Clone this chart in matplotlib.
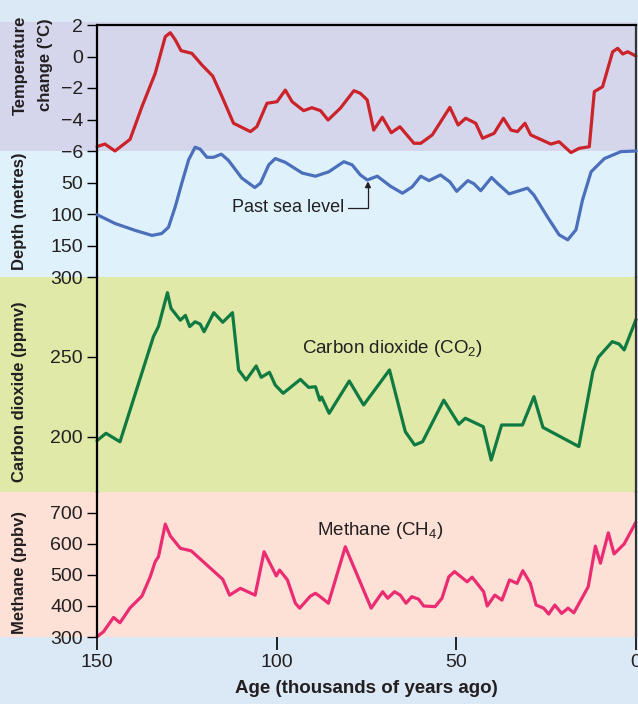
import matplotlib
matplotlib.use('Agg')
import matplotlib.pyplot as plt
from matplotlib.patches import Rectangle

plt.rcParams['font.family'] = ['Liberation Sans Narrow', 'Liberation Sans', 'DejaVu Sans']
plt.rcParams['mathtext.default'] = 'regular'

# temperature change (deg C) vs age (kyr ago)
temp_age = [150, 147.8, 145, 140.8, 137.5, 133.8, 131, 129.6, 128.2, 126.6, 123.6, 120.8, 117.8,
            115.2, 112, 107.3, 105.5, 102.7, 99.9, 97.6, 95.7, 92.5, 90.2, 87.8, 85.7, 82.3, 78.5,
            76.7, 74.8, 73, 70.6, 68.1, 65.7, 61.8, 59.9, 56.7, 51.8, 49.5, 47.4, 44.6, 42.7, 39.5,
            36.9, 34.8, 33, 30.9, 29.3, 23.7, 21.4, 18.1, 15.8, 13, 11.6, 9.3, 6.5, 5.1, 3.7, 2.3, 0]
temp_val = [-5.72, -5.56, -6.0, -5.26, -3.19, -1.07, 1.26, 1.51, 1.05, 0.37, 0.2, -0.54, -1.24,
            -2.55, -4.24, -4.77, -4.45, -2.97, -2.87, -2.13, -2.87, -3.44, -3.25, -3.44, -4.03, -3.29, -2.17,
            -2.34, -2.76, -4.67, -3.86, -4.84, -4.46, -5.51, -5.51, -4.98, -3.23, -4.35, -3.92, -4.24, -5.19, -4.88,
            -3.92, -4.67, -4.77, -4.24, -4.98, -5.56, -5.41, -6.1, -5.83, -5.73, -2.23, -1.92, 0.3, 0.52, 0.16, 0.3, 0.03]

# sea level depth (m)
sea_age = [150, 145, 139.4, 134.7, 132, 130.1, 128.2, 126.4, 124.5, 122.7, 121.3, 119.4, 117.6, 115.4,
           113.4, 109.7, 106.1, 104.5, 102.2, 100.4, 97.6, 92.9, 89.2, 85.5, 81.3, 79, 76.7, 74.8,
           72, 68.3, 65, 62.3, 59.9, 57.6, 54.4, 51.8, 49.9, 46.8, 45.1, 43.2, 40.2, 38.6, 35.3,
           30.2, 28.4, 24.6, 21.4, 19, 16.7, 14.9, 12.5, 8.8, 4.2, 0]
sea_depth = [101, 115, 126, 134, 131, 121, 88, 51, 14, -6, -3, 10, 10, 5,
             15, 43, 58, 51, 22, 12, 18, 35, 40, 33, 17, 22, 38, 46,
             40, 56, 67, 57, 40, 47, 38, 49, 64, 47, 52, 63, 42, 51, 68,
             59, 70, 105, 133, 141, 125, 78, 33, 12, 1, 0]

# carbon dioxide (ppmv)
co2_age = [150, 147.5, 143.6, 134.3, 132.9, 130.4, 129.4, 126.8, 125.4, 124.2, 122.7, 121.3, 120.2,
           117.5, 115, 112.3, 110.6, 108.5, 105.7, 104.3, 102, 100.4, 98.2, 93.4, 91.1, 89.2, 88,
           87.5, 85.4, 79.8, 75.8, 68.6, 64.2, 61.6, 59.4, 53.5, 49.3, 47.5, 42.5, 40.3, 37.4,
           31.6, 28.4, 25.9, 15.9, 12, 10.5, 6.6, 4.7, 3.3, 0]
co2_val = [197.7, 202.3, 197, 262.7, 269, 290.2, 280.4, 273, 276, 269, 272, 270.6, 265.8,
           277.7, 271.7, 277.7, 241.9, 235.6, 244.4, 237.3, 240.4, 232.5, 227.3, 236, 231, 231.4, 223,
           225, 214.8, 235, 220, 241.9, 203.3, 195, 197, 223, 208, 211.7, 206.4, 185.6, 207.5,
           207.5, 225.2, 206, 194, 240.8, 249.8, 259.6, 258.1, 254.4, 273.5]

# methane (ppbv)
ch4_age = [150, 148.2, 145.4, 143.6, 140.8, 137.5, 135.2, 133.8, 132.9, 131, 129.6, 126.8, 123.8,
           119.4, 115, 113.1, 110.1, 106, 103.5, 100.1, 99.2, 97, 94.8, 93.6, 90.6, 89.2, 88.1,
           85.6, 80.9, 73.7, 70.5, 69.1, 67.2, 65.6, 64, 62.4, 60.5, 59.1, 55.9, 54, 52.1, 50.5,
           47, 45.6, 42.4, 41.4, 39.3, 37.3, 35.2, 33.1, 31.5, 29.4, 27.8, 25.7, 24.3, 22.6, 20.7,
           18.9, 17.3, 13.3, 11.3, 9.9, 7.7, 6.1, 3.3, 0.1]
ch4_val = [301, 317, 363, 346, 394, 432, 494, 543, 559, 664, 626, 586, 578,
           532, 486, 435, 457, 435, 575, 497, 516, 484, 409, 393, 432, 441, 432,
           409, 591, 393, 446, 425, 446, 435, 409, 430, 422, 400, 398, 425, 494, 511,
           478, 493, 446, 400, 435, 419, 484, 473, 514, 473, 403, 393, 374, 403, 376,
           393, 378, 462, 593, 538, 636, 568, 600, 669]

W, H = 638, 704
fig = plt.figure(figsize=(W / 100, H / 100), dpi=100)
fig.patch.set_facecolor('#dbe8f5')

x0, x1 = 97, 636


def fy(px):
    return 1 - px / H


# background bands (px top, px bottom, colour)
bands = [(22, 151, '#d5d6ec'), (151, 277, '#dff2fb'), (277, 492, '#e0e9a8'), (492, 637, '#fde0d6')]
for top, bot, c in bands:
    fig.add_artist(Rectangle((0, fy(bot)), x1 / W, (bot - top) / H, transform=fig.transFigure,
                             facecolor=c, edgecolor='none', zorder=-5))


def make_ax(top, bot):
    ax = fig.add_axes([x0 / W, fy(bot), (x1 - x0) / W, (bot - top) / H])
    ax.set_facecolor('none')
    ax.set_xlim(150, 0)
    for s in ax.spines.values():
        s.set_visible(False)
    ax.spines['left'].set_visible(True)
    ax.spines['right'].set_visible(True)
    ax.spines['left'].set_linewidth(1.6)
    ax.spines['right'].set_linewidth(1.6)
    ax.spines['right'].set_color('#333333')
    ax.tick_params(axis='y', direction='out', length=7, width=1, labelsize=14, pad=3,
                   labelcolor='#231f20', right=False)
    ax.tick_params(axis='x', bottom=False, labelbottom=False)
    return ax


lw = 2.3
line_kw = dict(lw=lw, solid_joinstyle='round', solid_capstyle='round', clip_on=False)

ax1 = make_ax(25, 151)
ax1.spines['top'].set_visible(True)
ax1.spines['top'].set_linewidth(1.6)
ax1.plot(temp_age, temp_val, color='#cc2229', **line_kw)
ax1.set_ylim(-6, 2)
ax1.set_yticks([2, 0, -2, -4, -6])

ax2 = make_ax(151, 277)
ax2.plot(sea_age, sea_depth, color='#4c6fbb', zorder=3, **line_kw)
ax2.set_ylim(200, 0)
ax2.set_yticks([50, 100, 150])
ax2.annotate('Past sea level', xy=(74.6, 48), xytext=(81.3, 90), ha='right', va='center',
             fontsize=13, color='#231f20',
             arrowprops=dict(arrowstyle='-|>', color='#231f20', lw=0.9, shrinkA=1, shrinkB=0,
                             mutation_scale=9, connectionstyle='angle,angleA=0,angleB=90,rad=0'))

ax3 = make_ax(277, 492)
ax3.plot(co2_age, co2_val, color='#0f7a42', **line_kw)
ax3.set_ylim(165.6, 300)
ax3.set_yticks([200, 250, 300])
ax3.text(67.7, 255.6, 'Carbon dioxide (CO$_2$)', ha='center', va='center', fontsize=13.5, color='#231f20')

ax4 = make_ax(492, 637)
ax4.plot(ch4_age, ch4_val, color='#ec2c72', **line_kw)
ax4.set_ylim(300, 767.7)
ax4.set_yticks([300, 400, 500, 600, 700])
ax4.text(71.1, 645, 'Methane (CH$_4$)', ha='center', va='center', fontsize=13.5, color='#231f20')
ax4.tick_params(axis='x', bottom=True, labelbottom=True, direction='out', length=9, width=1.2,
                labelsize=14, labelcolor='#231f20', pad=3)
ax4.set_xticks([150, 100, 50, 0])
ax4.set_xlabel('Age (thousands of years ago)', fontsize=13.5, fontweight='bold', color='#231f20',
               labelpad=7)

lab = dict(rotation=90, ha='center', va='center', fontsize=12, fontweight='bold', color='#231f20')
fig.text(20 / W, fy(65), 'Temperature', **lab)
fig.text(45 / W, fy(65), 'change (°C)', **lab)
fig.text(20 / W, fy(211), 'Depth (metres)', **lab)
fig.text(20 / W, fy(392), 'Carbon dioxide (ppmv)', **lab)
fig.text(20 / W, fy(572), 'Methane (ppbv)', **lab)

fig.savefig('out.png', dpi=100, facecolor=fig.get_facecolor())
